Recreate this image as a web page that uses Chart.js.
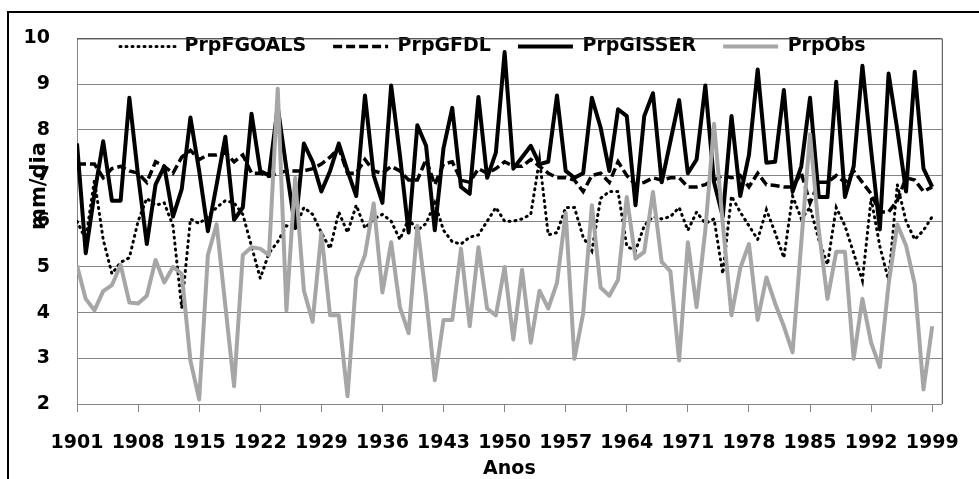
<!DOCTYPE html>
<html lang="pt">
<head>
<meta charset="utf-8">
<title>Precipitação 1901-1999</title>
<script src="https://cdn.jsdelivr.net/npm/chart.js@4.4.1/dist/chart.umd.min.js"></script>
<style>
  html, body { margin: 0; padding: 0; background: #fff; }
  canvas { display: block; }
</style>
</head>
<body>
<canvas id="grafico" width="979" height="479"></canvas>
<script>
// anos da série (eixo x)
const anos = [];
for (let a = 1901; a <= 1999; a++) anos.push(a);

const anosRotulo = [1901, 1908, 1915, 1922, 1929, 1936, 1943, 1950, 1957, 1964, 1971, 1978, 1985, 1992, 1999];
const valoresY = [2, 3, 4, 5, 6, 7, 8, 9, 10];

// mm/dia
const prpFGOALS = [
  6.0, 5.6, 6.9, 5.6, 4.85, 5.1, 5.2, 6.0, 6.5, 6.35,
  6.4, 5.9, 4.1, 6.05, 5.95, 6.1, 6.3, 6.45, 6.4, 6.15,
  5.45, 4.75, 5.3, 5.55, 5.9, 5.85, 6.3, 6.15, 5.75, 5.4,
  6.2, 5.75, 6.35, 5.85, 6.05, 6.15, 6.0, 5.6, 6.05, 5.8,
  5.95, 6.4, 5.8, 5.55, 5.5, 5.65, 5.7, 6.0, 6.3, 6.0,
  6.0, 6.05, 6.15, 7.35, 5.7, 5.75, 6.3, 6.3, 5.65, 5.35,
  6.5, 6.65, 6.65, 5.45, 5.35, 5.9, 6.1, 6.05, 6.1, 6.3,
  5.8, 6.2, 5.95, 6.05, 4.85, 6.55, 6.2, 5.9, 5.6, 6.25,
  5.75, 5.2, 6.55, 6.05, 6.3, 5.6, 5.05, 6.3, 5.9, 5.3,
  4.7, 6.5, 5.45, 4.7, 6.8, 6.0, 5.6, 5.8, 6.1
];
const prpGFDL = [
  7.25, 7.25, 7.25, 6.95, 7.15, 7.2, 7.1, 7.05, 6.85, 7.3,
  7.2, 7.05, 7.4, 7.55, 7.35, 7.45, 7.45, 7.5, 7.3, 7.45,
  7.05, 7.05, 6.98, 7.05, 7.1, 7.1, 7.1, 7.15, 7.25, 7.4,
  7.6, 7.05, 7.05, 7.35, 7.1, 7.05, 7.2, 7.1, 6.9, 6.9,
  7.35, 6.8, 7.25, 7.3, 6.9, 6.85, 7.15, 7.05, 7.15, 7.3,
  7.2, 7.2, 7.35, 7.2, 7.05, 6.95, 6.95, 6.9, 6.65, 7.0,
  7.05, 6.85, 7.3, 7.0, 6.8, 6.85, 6.95, 6.9, 6.95, 6.95,
  6.75, 6.75, 6.8, 6.9, 7.0, 6.95, 7.0, 6.75, 7.05, 6.8,
  6.78, 6.75, 6.75, 7.05, 6.4, 6.85, 6.85, 7.0, 6.85, 7.1,
  6.85, 6.6, 6.2, 6.2, 6.45, 6.95, 6.9, 6.65, 6.75
];
const prpGISSER = [
  7.7, 5.3, 6.6, 7.75, 6.45, 6.45, 8.7, 7.0, 5.5, 6.8,
  7.2, 6.1, 6.7, 8.27, 7.1, 5.78, 6.8, 7.85, 6.03, 6.3,
  8.35, 7.1, 7.0, 8.5, 7.15, 5.85, 7.7, 7.3, 6.65, 7.1,
  7.7, 7.1, 6.55, 8.75, 7.0, 6.4, 8.97, 7.45, 5.75, 8.1,
  7.65, 5.8, 7.6, 8.48, 6.75, 6.6, 8.72, 6.95, 7.5, 9.7,
  7.15, 7.4, 7.65, 7.25, 7.3, 8.75, 7.1, 6.95, 7.05, 8.7,
  8.05, 7.1, 8.45, 8.3, 6.35, 8.3, 8.8, 6.85, 7.75, 8.65,
  7.05, 7.35, 8.97, 6.85, 6.1, 8.3, 6.55, 7.45, 9.32, 7.28,
  7.3, 8.87, 6.65, 7.2, 8.7, 6.53, 6.53, 9.05, 6.53, 7.2,
  9.4, 7.55, 5.82, 9.23, 8.0, 6.65, 9.27, 7.15, 6.75
];
const prpObs = [
  5.03, 4.3, 4.05, 4.47, 4.6, 5.04, 4.22, 4.2, 4.37, 5.15,
  4.66, 5.0, 4.85, 2.95, 2.1, 5.26, 5.93, 4.15, 2.39, 5.26,
  5.43, 5.4, 5.26, 8.9, 4.05, 6.95, 4.48, 3.8, 5.75, 3.94,
  3.94, 2.17, 4.76, 5.26, 6.39, 4.44, 5.54, 4.12, 3.55, 5.9,
  4.33, 2.52, 3.84, 3.84, 5.4, 3.7, 5.43, 4.09, 3.94, 5.0,
  3.41, 4.94, 3.34, 4.48, 4.09, 4.65, 6.18, 2.99, 3.98, 6.35,
  4.55, 4.37, 4.72, 6.53, 5.18, 5.33, 6.64, 5.11, 4.9, 2.95,
  5.54, 4.12, 5.8, 8.13, 5.95, 3.94, 4.97, 5.5, 3.84, 4.77,
  4.2, 3.7, 3.13, 5.54, 7.9, 5.8, 4.3, 5.33, 5.33, 2.99,
  4.3, 3.34, 2.81, 4.62, 5.93, 5.47, 4.62, 2.32, 3.7
];

function pontos(serie) {
  return anos.map((a, i) => ({ x: a, y: serie[i] }));
}

// legenda dentro da área do gráfico, por cima das linhas
const legendaDentro = {
  id: "legendaDentro",
  beforeInit(chart) {
    const legenda = chart.legend;
    const fitOriginal = legenda.fit;
    legenda.fit = function () {
      fitOriginal.call(this);
      this.height = 0;
    };
    legenda._layers = () => [{ z: 1, draw: area => legenda.draw(area) }];
  },
  afterLayout(chart) {
    const legenda = chart.legend;
    legenda.top = 10;
    legenda.bottom = 72;
    legenda.left = 93;
    legenda.right = 979;
  }
};

// moldura externa, borda da área e título do eixo y
const moldura = {
  id: "moldura",
  afterDraw(chart) {
    const ctx = chart.ctx;
    const a = chart.chartArea;
    ctx.save();
    ctx.strokeStyle = "#404040";
    ctx.lineWidth = 1;
    ctx.beginPath();
    ctx.moveTo(a.left, a.top + 0.5);
    ctx.lineTo(a.right + 0.5, a.top + 0.5);
    ctx.lineTo(a.right + 0.5, a.bottom);
    ctx.stroke();

    ctx.strokeStyle = "#000";
    ctx.lineWidth = 2;
    ctx.beginPath();
    ctx.moveTo(8, 479);
    ctx.lineTo(8, 12);
    ctx.lineTo(979, 12);
    ctx.stroke();

    ctx.translate(40, 186);
    ctx.rotate(-Math.PI / 2);
    ctx.font = 'bold 21px "DejaVu Sans"';
    ctx.fillStyle = "#000";
    ctx.textAlign = "center";
    ctx.textBaseline = "middle";
    ctx.fillText("mm/dia", 0, 0);
    ctx.restore();
  }
};

Chart.defaults.font.family = '"DejaVu Sans", sans-serif';
Chart.defaults.font.weight = "bold";
Chart.defaults.font.size = 19;
Chart.defaults.color = "#000";

const ctx = document.getElementById("grafico").getContext("2d");
new Chart(ctx, {
  type: "line",
  data: {
    datasets: [
      {
        label: "PrpFGOALS",
        data: pontos(prpFGOALS),
        borderColor: "#000",
        backgroundColor: "#000",
        borderWidth: 3,
        borderDash: [1, 5],
        borderCapStyle: "round",
        pointRadius: 0,
        pointStyle: "line",
        order: 4
      },
      {
        label: "PrpGFDL",
        data: pontos(prpGFDL),
        borderColor: "#000",
        backgroundColor: "#000",
        borderWidth: 3.5,
        borderDash: [9, 4],
        pointRadius: 0,
        pointStyle: "line",
        order: 3
      },
      {
        label: "PrpGISSER",
        data: pontos(prpGISSER),
        borderColor: "#000",
        backgroundColor: "#000",
        borderWidth: 4,
        borderJoinStyle: "round",
        pointRadius: 0,
        pointStyle: "line",
        order: 2
      },
      {
        label: "PrpObs",
        data: pontos(prpObs),
        borderColor: "#a6a6a6",
        backgroundColor: "#a6a6a6",
        borderWidth: 4,
        borderJoinStyle: "round",
        pointRadius: 0,
        pointStyle: "line",
        order: 1
      }
    ]
  },
  options: {
    responsive: false,
    animation: false,
    layout: { padding: { top: 26, left: 8, right: 31, bottom: 0 } },
    plugins: {
      tooltip: { enabled: false },
      legend: {
        position: "top",
        align: "start",
        labels: {
          usePointStyle: true,
          pointStyleWidth: 55,
          padding: 27,
          color: "#000",
          font: { size: 19, weight: "bold" },
          sort: (a, b) => a.datasetIndex - b.datasetIndex,
          // amostra de linha com o mesmo traço da série
          generateLabels(chart) {
            const itens = Chart.defaults.plugins.legend.labels.generateLabels(chart);
            itens.forEach(it => {
              const ds = chart.data.datasets[it.datasetIndex];
              it.lineDash = ds.borderDash || [];
              it.lineWidth = ds.borderWidth;
              it.lineCap = ds.borderCapStyle || "butt";
              it.strokeStyle = ds.borderColor;
            });
            return itens;
          }
        }
      }
    },
    scales: {
      x: {
        type: "linear",
        min: 1901,
        max: 2000.1,
        afterBuildTicks: s => { s.ticks = anosRotulo.map(v => ({ value: v })); },
        afterFit: s => { s.height = 75; },
        grid: { drawOnChartArea: false, tickLength: 8, color: "#868686" },
        border: { color: "#868686" },
        ticks: { padding: 20, maxRotation: 0, autoSkip: false, callback: v => String(v) },
        title: { display: true, text: "Anos", padding: 0, font: { size: 19, weight: "bold", lineHeight: 1 } }
      },
      y: {
        min: 2,
        max: 10,
        afterBuildTicks: s => { s.ticks = valoresY.map(v => ({ value: v })); },
        afterFit: s => { s.width = 69; },
        grid: { color: "#868686", drawTicks: false },
        border: { color: "#868686" },
        ticks: { padding: 27 }
      }
    }
  },
  plugins: [legendaDentro, moldura]
});
</script>
</body>
</html>
